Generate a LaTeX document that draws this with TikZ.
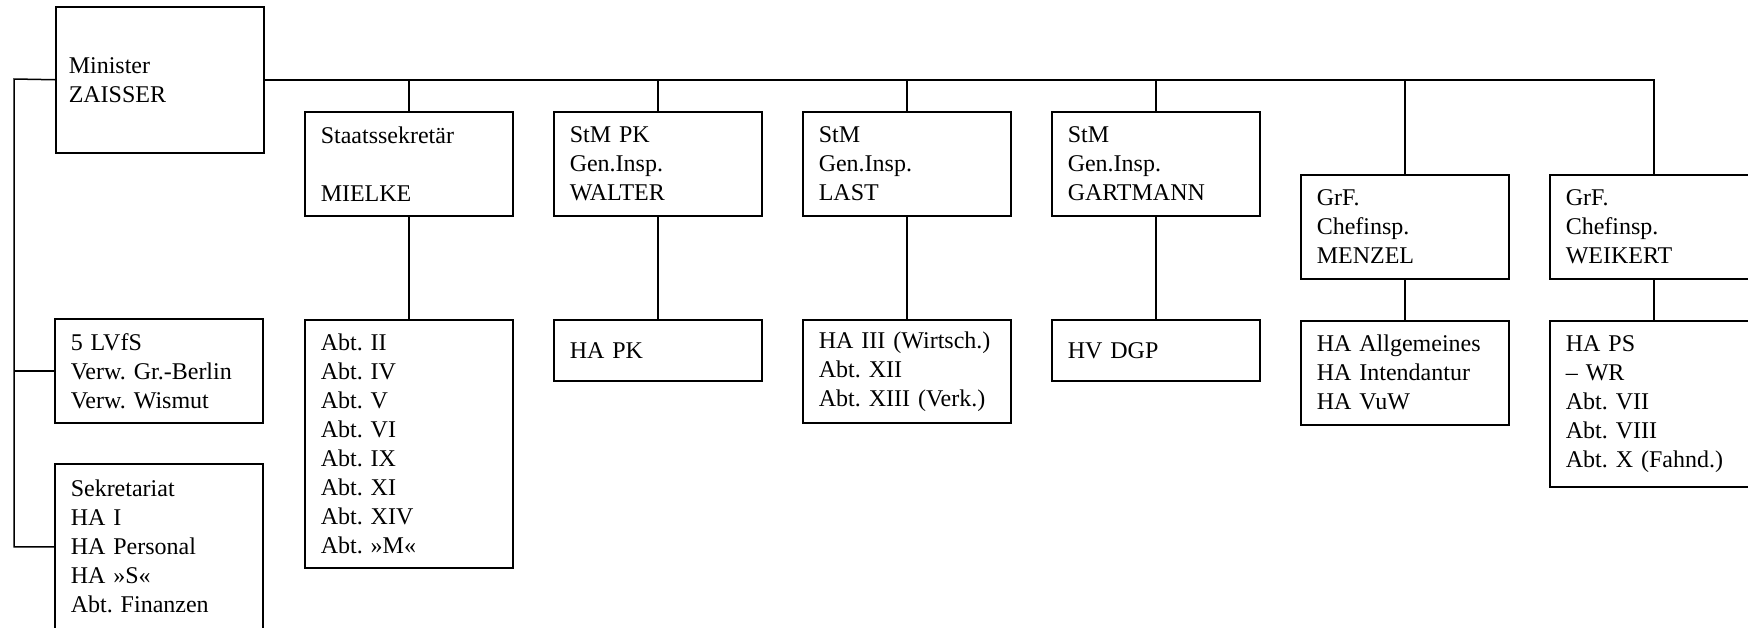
\documentclass[tikz,border=0pt]{standalone}
\usepackage{fontspec}
\setmainfont{Liberation Serif}
\usepackage{tikz}
\usetikzlibrary{calc}
\frenchspacing

\begin{document}
\begin{tikzpicture}[x=1pt,y=-1pt,line width=1.5pt,line join=miter,
    kasten/.style={draw=black,anchor=north west,minimum width=208pt,
        inner xsep=16pt,inner ysep=4pt,text width=176pt,align=left,
        font=\fontsize{24}{29}\selectfont},
    ]
                \clip (0,0) rectangle (1748,627);

                % Minister und Stab
                \node[kasten,minimum height=146pt,inner xsep=13pt,text width=182pt] (minister) at (55,6) {Minister\\ZAISSER};
                \node[kasten,minimum height=104pt] (lvfs) at (54,318) {5 LVfS\\Verw. Gr.-Berlin\\Verw. Wismut};
                \node[kasten,minimum height=166pt] (sekr) at (54,463) {Sekretariat\\HA I\\HA Personal\\HA »S«\\Abt. Finanzen};

                % obere Reihe
                \node[kasten,minimum height=104pt] (staats) at (304,111) {Staatssekretär\\[29pt]MIELKE};
                \node[kasten,minimum height=104pt] (stmpk) at (553,111) {StM PK\\Gen.Insp.\\WALTER};
                \node[kasten,minimum height=104pt] (last) at (802,111) {StM\\Gen.Insp.\\LAST};
                \node[kasten,minimum height=104pt] (gart) at (1051,111) {StM\\Gen.Insp.\\GARTMANN};
                \node[kasten,minimum height=104pt] (menzel) at (1300,174) {GrF.\\Chefinsp.\\MENZEL};
                \node[kasten,minimum height=104pt] (weik) at (1549,174) {GrF.\\Chefinsp.\\WEIKERT};

                % untere Reihe
                \node[kasten,minimum height=248pt] (abt) at (304,319) {Abt. II\\Abt. IV\\Abt. V\\Abt. VI\\Abt. IX\\Abt. XI\\Abt. XIV\\Abt. »M«};
                \node[kasten,minimum height=61pt] (hapk) at (553,319) {HA PK};
                \node[kasten,minimum height=103pt] (hawi) at (802,319) {HA III (Wirtsch.)\\Abt. XII\\Abt. XIII (Verk.)};
                \node[kasten,minimum height=61pt] (hvdgp) at (1051,319) {HV DGP};
                \node[kasten,minimum height=104pt] (haallg) at (1300,320) {HA Allgemeines\\HA Intendantur\\HA VuW};
                \node[kasten,minimum height=166pt] (haps) at (1549,320) {HA PS\\– WR\\Abt. VII\\Abt. VIII\\Abt. X (Fahnd.)};

                % Linien
                \coordinate (links) at (14,79);
                \draw (minister.east) -| (weik.north);
                \foreach \k in {staats,stmpk,last,gart,menzel}
                    \draw (\k.north) -- (\k.north |- minister.east);
                \draw (staats.south) -- (abt.north);
                \draw (stmpk.south) -- (hapk.north);
                \draw (last.south) -- (hawi.north);
                \draw (gart.south) -- (hvdgp.north);
                \draw (menzel.south) -- (haallg.north);
                \draw (weik.south) -- (haps.north);
                \draw (minister.west) -- (links) |- (sekr.west);
                \draw (links |- lvfs.west) -- (lvfs.west);

            \end{tikzpicture}
\end{document}
